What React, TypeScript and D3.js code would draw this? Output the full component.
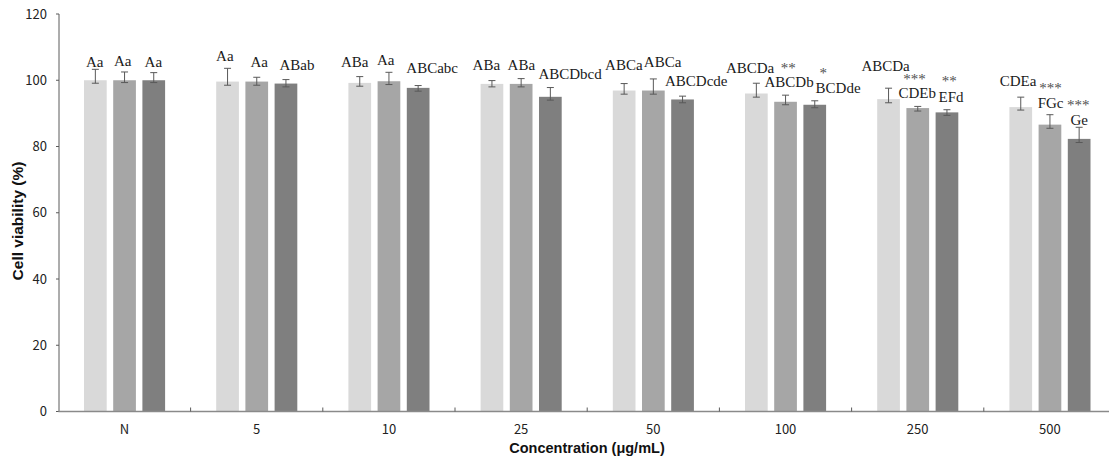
import React from "react";
import * as d3 from "d3";

// ---------- data ----------
const categories = ["N", "5", "10", "25", "50", "100", "250", "500"];
const seriesNames = ["S1", "S2", "S3"];
const series1 = [100, 99.6, 99.2, 98.9, 96.9, 96.0, 94.3, 91.9];
const series2 = [100, 99.6, 99.7, 98.9, 96.9, 93.5, 91.6, 86.6];
const series3 = [100, 99.0, 97.7, 95.0, 94.2, 92.6, 90.3, 82.3];
const errUp1 = [3.3, 4.0, 1.9, 1.0, 2.1, 3.1, 3.3, 3.0];
const errUp2 = [2.5, 1.3, 2.7, 1.6, 3.5, 2.0, 0.5, 3.0];
const errUp3 = [2.3, 1.2, 0.7, 2.8, 1.0, 1.2, 0.8, 3.5];
const errDown1 = [0.9, 1.1, 1.0, 0.9, 1.1, 1.1, 1.1, 0.9];
const errDown2 = [0.7, 1.1, 1.0, 0.9, 1.1, 0.9, 0.9, 1.1];
const errDown3 = [0.7, 1.0, 1.0, 1.0, 1.0, 0.9, 0.9, 1.1];
const letters1 = ["Aa", "Aa", "ABa", "ABa", "ABCa", "ABCDa", "ABCDa", "CDEa"];
const letters2 = ["Aa", "Aa", "Aa", "ABa", "ABCa", "ABCDb", "CDEb", "FGc"];
const letters3 = ["Aa", "ABab", "ABCabc", "ABCDbcd", "ABCDcde", "BCDde", "EFd", "Ge"];
const stars1 = ["", "", "", "", "", "", "", ""];
const stars2 = ["", "", "", "", "", "**", "***", "***"];
const stars3 = ["", "", "", "", "", "*", "**", "***"];
const yTicks = [0, 20, 40, 60, 80, 100, 120];
const yTitle = "Cell viability (%)";
const xTitle = "Concentration (μg/mL)";

// ---------- layout (label placement offsets, px) ----------
const labelDx = [
  [-0.6, -2.7, -5, -5.6, -0.3, -6.3, -3, -2.7],
  [-1.8, 2.5, -3.2, 0.2, 9.2, 3.5, -0.5, 0.6],
  [-0.4, 11, 14, 19.7, 13.7, 23.3, 4.1, 0],
];
const labelDy = [
  [2.6, 7, 10, 10.7, 13.3, 10.6, 17.7, 11.3],
  [6, 10.6, 7.3, 8.7, 12, 8.6, 8, 7],
  [6, 9.7, 12.4, 8.3, 10, 8, 8, 1.8],
];
const starDx = [
  [0, 0, 0, 0, 0, 0, 0, 0],
  [0, 0, 0, 0, 0, 2.8, -3.2, 0.6],
  [0, 0, 0, 0, 0, 8.6, 2.4, -1],
];
const starDy = [
  [14, 14, 14, 14, 14, 14, 14, 14],
  [14, 14, 14, 14, 14, 14, 14.5, 14.5],
  [14, 14, 14, 14, 14, 14.5, 15.5, 15],
];

const W = 1109;
const H = 461;
const colors = ["#d9d9d9", "#a6a6a6", "#7f7f7f"];

export default function App() {
  const values = [series1, series2, series3];
  const ups = [errUp1, errUp2, errUp3];
  const downs = [errDown1, errDown2, errDown3];
  const letters = [letters1, letters2, letters3];
  const stars = [stars1, stars2, stars3];

  const x0 = d3.scaleBand<string>().domain(categories).range([58.4, 1116]).paddingInner(0).paddingOuter(0);
  const x1 = d3.scaleBand<string>().domain(seriesNames).range([25.6, 106.7]).paddingInner(0.2226).paddingOuter(0);
  const y = d3.scaleLinear().domain([0, 120]).range([411.5, 14]);

  const serif = "'Liberation Serif', 'Times New Roman', serif";
  const sans = "'Noto Sans CJK KR', 'Noto Sans', sans-serif";
  const bold = "'Liberation Sans', Arial, sans-serif";

  const bars: React.ReactNode[] = [];
  const errs: React.ReactNode[] = [];
  const labels: React.ReactNode[] = [];

  categories.forEach((c, gi) => {
    seriesNames.forEach((s, si) => {
      const v = values[si][gi];
      const bx = (x0(c) as number) + (x1(s) as number);
      const bw = x1.bandwidth();
      const cx = bx + bw / 2;
      bars.push(
        <rect key={`b${gi}-${si}`} x={bx} y={y(v)} width={bw} height={y(0) - y(v)} fill={colors[si]} />
      );
      const top = y(v + ups[si][gi]);
      const bot = y(v - downs[si][gi]);
      errs.push(
        <g key={`e${gi}-${si}`} stroke="#595959" strokeWidth={1}>
          <line x1={cx} x2={cx} y1={top} y2={bot} />
          <line x1={cx - 3.5} x2={cx + 3.5} y1={top} y2={top} />
          <line x1={cx - 3.5} x2={cx + 3.5} y1={bot} y2={bot} />
        </g>
      );
      const base = top - labelDy[si][gi];
      labels.push(
        <text key={`l${gi}-${si}`} x={cx + labelDx[si][gi]} y={base} textAnchor="middle"
          fontFamily={serif} fontSize={15} fill="#1a1a1a">{letters[si][gi]}</text>
      );
      if (stars[si][gi]) {
        labels.push(
          <text key={`s${gi}-${si}`} x={cx + starDx[si][gi]} y={base - starDy[si][gi]} textAnchor="middle"
            fontFamily={serif} fontSize={15} fill="#505050">{stars[si][gi]}</text>
        );
      }
    });
  });

  const boundaries = categories.slice(1).map((c) => x0(c) as number).concat([1116]);

  return (
    <svg width={W} height={H} style={{ position: "absolute", left: 0, top: 0, background: "#fff" }}>
      {bars}
      {errs}
      {/* y axis */}
      <line x1={59} x2={59} y1={y(120)} y2={y(0)} stroke="#5a5a5a" strokeWidth={1} />
      {yTicks.map((t) => (
        <g key={`yt${t}`}>
          <line x1={56} x2={59} y1={y(t)} y2={y(t)} stroke="#5a5a5a" strokeWidth={1} />
          <text x={47} y={y(t)} dy="0.35em" textAnchor="end" fontFamily={sans} fontSize={13} fill="#222">{t}</text>
        </g>
      ))}
      {/* x axis */}
      <line x1={58.4} x2={1116} y1={y(0)} y2={y(0)} stroke="#8a8a8a" strokeWidth={1.3} />
      {boundaries.map((b, i) => (
        <line key={`xt${i}`} x1={b} x2={b} y1={y(0)} y2={y(0) - 4} stroke="#5a5a5a" strokeWidth={1} />
      ))}
      {categories.map((c) => (
        <text key={`xl${c}`} x={(x0(c) as number) + x0.bandwidth() / 2} y={434} textAnchor="middle"
          fontFamily={sans} fontSize={13} fill="#222">{c}</text>
      ))}
      {labels}
      <text transform="translate(23,221) rotate(-90)" textAnchor="middle" fontFamily={bold} fontWeight="bold"
        fontSize={15.5} fill="#111">{yTitle}</text>
      <text x={587} y={453} textAnchor="middle" fontFamily={bold} fontWeight="bold" fontSize={14.5} fill="#111">{xTitle}</text>
    </svg>
  );
}
